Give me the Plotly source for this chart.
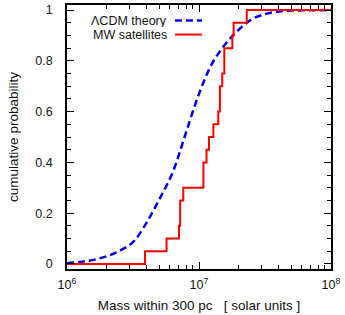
import plotly.graph_objects as go

# ---- data ----
theory_log_mass = [6.0, 6.1, 6.2, 6.3, 6.4, 6.5, 6.6, 6.7, 6.8, 6.9, 7.0,
                   7.1, 7.2, 7.3, 7.4, 7.5, 7.6, 7.7, 7.8, 8.0]
theory_cum = [0.003, 0.008, 0.016, 0.030, 0.052, 0.086, 0.160, 0.255, 0.360, 0.515,
              0.670, 0.790, 0.866, 0.922, 0.964, 0.984, 0.994, 0.998, 0.999, 1.0]
theory_mass = [10 ** v for v in theory_log_mass]

sat_mass = [1e6, 3.9e6, 5.68e6, 7.05e6, 7.2e6, 7.6e6, 1.08e7, 1.14e7, 1.19e7,
            1.285e7, 1.40e7, 1.44e7, 1.50e7, 1.555e7, 1.79e7, 1.83e7, 2.3e7, 1e8]
sat_cum = [0.0, 0.05, 0.10, 0.15, 0.25, 0.30, 0.40, 0.45, 0.50,
           0.55, 0.60, 0.70, 0.75, 0.85, 0.90, 0.95, 1.0, 1.0]

y_ticks = [0, 0.2, 0.4, 0.6, 0.8, 1.0]
y_tick_text = ["0", "0.2", "0.4", "0.6", "0.8", "1"]
x_ticks = [1e6, 1e7, 1e8]
x_tick_text = ["10<sup>6</sup>", "10<sup>7</sup>", "10<sup>8</sup>"]
legend_labels = ["\u039bCDM theory", "MW satellites"]

BLUE = "#0000ee"
RED = "#ff0000"
FONT = "Liberation Sans, Arial, sans-serif"
DASH = "7px,4px"

fig = go.Figure()
fig.add_trace(go.Scatter(x=theory_mass, y=theory_cum, mode="lines",
                         line=dict(color=BLUE, width=2.5, dash=DASH, shape="spline"),
                         showlegend=False, hoverinfo="skip"))
fig.add_trace(go.Scatter(x=sat_mass, y=sat_cum, mode="lines",
                         line=dict(color=RED, width=2, shape="hv"),
                         showlegend=False, hoverinfo="skip"))

axis_common = dict(showline=True, linecolor="black", linewidth=1.5, mirror="ticks",
                   ticks="inside", tickcolor="black", ticklen=7, tickwidth=1,
                   showgrid=False, zeroline=False, automargin=False,
                   tickfont=dict(family=FONT, size=12.5, color="#111111"))

fig.update_xaxes(type="log", range=[6, 8], tickvals=x_ticks, ticktext=x_tick_text,
                 minor=dict(ticks="inside", ticklen=4, tickcolor="black", dtick="D1",
                            showgrid=False),
                 title=dict(text="Mass within 300 pc   [ solar units ]",
                            font=dict(family=FONT, size=13.5, color="#111111"), standoff=10),
                 ticklabelstandoff=3,
                 **axis_common)
fig.update_yaxes(range=[-0.02, 1.02], tickvals=y_ticks, ticktext=y_tick_text,
                 minor=dict(ticks="inside", ticklen=4, tickcolor="black", dtick=0.05,
                            showgrid=False),
                 title=dict(text="cumulative probability",
                            font=dict(family=FONT, size=13.5, color="#111111"), standoff=14),
                 ticklabelstandoff=10,
                 **axis_common)

# legend (gnuplot style: text left, sample right)
leg_y = [0.941, 0.888]
leg_colors = [BLUE, RED]
leg_dash = [DASH, "solid"]
for lab, yy, col, dsh in zip(legend_labels, leg_y, leg_colors, leg_dash):
    fig.add_annotation(x=0.383, y=yy, xref="paper", yref="paper", text=lab,
                       showarrow=False, xanchor="right", yanchor="middle",
                       height=12, borderpad=0, valign="middle",
                       font=dict(family=FONT, size=12.5, color="#111111"))
    fig.add_shape(type="line", xref="paper", yref="paper", x0=0.409, x1=0.511,
                  y0=yy, y1=yy, line=dict(color=col, width=2.5 if dsh != "solid" else 2,
                                          dash=dsh))

fig.update_layout(width=345, height=315, margin=dict(l=67, r=14, t=5, b=46),
                  plot_bgcolor="white", paper_bgcolor="white",
                  font=dict(family=FONT, color="#111111"))

fig.write_html("out.html", config={"displayModeBar": False},
               post_script="document.body.style.margin='0px';document.body.style.overflow='hidden';")
